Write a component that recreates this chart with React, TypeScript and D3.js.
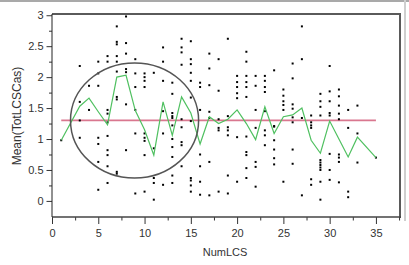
import { useEffect, useRef } from "react";
import * as d3 from "d3";

// NumLCS values that have observations
const numLcs = [
  1, 3, 4, 5, 6, 7, 8, 9, 10, 11, 12, 13, 14, 15, 16, 17, 18, 19, 20, 21, 22,
  23, 24, 25, 26, 27, 28, 29, 30, 31, 32, 33, 35,
];

// TotLCSCas observations, one list per NumLCS value above
const observations = [
  [0.98],
  [2.18, 1.6, 1.3, 1.02],
  [1.86, 1.47],
  [2.25, 2.06, 1.86, 1.02, 0.92, 0.63, 0.18],
  [2.34, 2.25, 1.47, 1.41, 1.27, 1.05, 0.82, 0.74, 0.56, 0.29],
  [2.82, 2.57, 2.53, 2.34, 2.25, 2.09, 1.68, 1.64, 0.47, 0.44],
  [2.98, 2.55, 2.38, 2.13, 2.08, 1.56, 0.82],
  [2.29, 2.06, 1.84, 1.47, 1.09, 0.12],
  [2.06, 2.0, 1.94, 1.84, 1.09, 1.02, 0.97, 0.74, 0.15],
  [2.07, 0.85, 0.37, 0.29, 0.02],
  [2.48, 2.25, 1.94, 1.45, 1.09, 0.26],
  [1.91, 1.73, 1.42, 1.37, 1.34, 1.22, 1.0, 0.87, 0.71, 0.41, 0.29],
  [2.62, 2.48, 2.4, 2.2, 1.32, 1.19, 0.95, 0.9, 0.56],
  [2.58, 2.29, 2.21, 2.07, 1.94, 1.67, 1.29, 0.37, 0.33, 0.25, 0.15],
  [1.91, 1.84, 1.47, 0.75, 0.56, 0.31, 0.1],
  [2.38, 2.14, 1.87, 1.44, 1.34, 0.63, 0.09],
  [2.29, 1.78, 1.32, 1.18, 1.14, 0.15],
  [2.62, 1.37, 1.19, 1.14, 1.06, 0.41, 0.12],
  [2.02, 1.92, 1.84, 1.74, 1.66, 1.03, 0.31],
  [2.41, 2.25, 2.02, 1.92, 1.84, 1.68, 1.04, 0.79, 0.74, 0.53, 0.37],
  [2.02, 1.86, 1.47, 1.18, 0.63, 0.55, 0.23],
  [2.02, 1.94, 1.84, 1.76, 1.45, 1.14, 1.06, 0.9],
  [2.11, 1.21, 1.2, 0.98, 0.83, 0.69, 0.59],
  [1.8, 1.7, 1.61, 1.55, 1.47, 0.31],
  [2.22, 1.98, 1.56, 1.49, 1.35, 1.27, 0.83, 0.6],
  [2.82, 2.29, 1.34, 0.09],
  [1.38, 1.27, 1.22, 1.18, 0.35, 0.26],
  [1.73, 1.61, 1.52, 1.38, 0.66, 0.62, 0.58, 0.54, 0.5, 0.31, 0.02],
  [2.18, 1.77, 1.61, 1.42, 1.38, 0.76, 0.5, 0.34],
  [1.8, 1.69, 1.54, 1.41, 1.32, 0.75, 0.7, 0.63, 0.3],
  [1.47, 1.18, 0.15, 0.06],
  [1.54, 1.09, 0.62],
  [0.7],
];

// mean of each group (green line)
const groupMeans = [
  0.98, 1.53, 1.66, 1.44, 1.23, 2.0, 2.03, 1.46, 1.15, 0.74, 1.6, 1.06, 1.68,
  1.42, 0.92, 1.36, 1.25, 1.32, 1.47, 1.25, 0.99, 1.52, 1.09, 1.36, 1.39, 1.5,
  0.98, 0.77, 1.29, 1.0, 0.71, 1.03, 0.7,
];

const grandMean = 1.3;

const xTicks = [0, 5, 10, 15, 20, 25, 30, 35];
const xMinorTicks = d3.range(2.5, 38, 5);
const yTicks = [0, 0.5, 1, 1.5, 2, 2.5, 3];
const yMinorTicks = [0.25, 0.75, 1.25, 1.75, 2.25, 2.75];

// hand-drawn circle, in data units: centre x, centre y, radius x, radius y
const circleNote = [8.92, 1.3, 6.92, 0.93];

export default function App() {
  const ref = useRef<HTMLDivElement>(null);

  useEffect(() => {
    if (!ref.current) return;
    ref.current.innerHTML = "";

    const W = 409;
    const H = 265;
    const left = 52;
    const right = 400;
    const top = 14;
    const bottom = 217;

    const svg = d3
      .select(ref.current)
      .append("svg")
      .attr("width", W)
      .attr("height", H)
      .style("position", "absolute")
      .style("left", "0px")
      .style("top", "0px")
      .style("background", "#fff")
      .attr("font-family", "'Liberation Sans', Arial, sans-serif");

    const x = d3.scaleLinear().domain([0, 37.6]).range([left, right]);
    const y = d3.scaleLinear().domain([-0.26, 3.02]).range([bottom, top]);

    // window chrome
    svg.append("rect").attr("x", 0).attr("y", 0).attr("width", W).attr("height", 2).attr("fill", "#a9a9a9");
    svg.append("rect").attr("x", 404).attr("y", 0).attr("width", 2).attr("height", 221).attr("fill", "#cfcfcf");

    // frame
    svg.append("line").attr("x1", left).attr("x2", right + 1).attr("y1", top).attr("y2", top)
      .attr("stroke", "#5a5a5a").attr("stroke-width", 2);
    svg.append("line").attr("x1", right).attr("x2", right).attr("y1", top).attr("y2", bottom + 1)
      .attr("stroke", "#5a5a5a").attr("stroke-width", 2);

    // axes
    const xg = svg.append("g").attr("transform", `translate(0,${bottom})`);
    xg.call(d3.axisBottom(x).tickValues(xTicks).tickSize(7).tickPadding(5).tickFormat((d) => String(d)));
    const xm = svg.append("g").attr("transform", `translate(0,${bottom})`);
    xm.call(d3.axisBottom(x).tickValues(xMinorTicks).tickSize(3.5).tickFormat(() => ""));

    const yg = svg.append("g").attr("transform", `translate(${left},0)`);
    yg.call(d3.axisLeft(y).tickValues(yTicks).tickSize(5.5).tickPadding(3).tickFormat((d) => String(d)));
    const ym = svg.append("g").attr("transform", `translate(${left},0)`);
    ym.call(d3.axisLeft(y).tickValues(yMinorTicks).tickSize(3).tickFormat(() => ""));

    [xg, xm, yg, ym].forEach((g) => {
      g.select(".domain").remove();
      g.selectAll("line").attr("stroke", "#333");
      g.selectAll("text").attr("font-size", 11).attr("fill", "#333").attr("font-family", "'Liberation Sans', Arial, sans-serif");
    });

    svg.append("line").attr("x1", left).attr("x2", right + 1).attr("y1", bottom).attr("y2", bottom)
      .attr("stroke", "#444").attr("stroke-width", 1.5);
    svg.append("line").attr("x1", left).attr("x2", left).attr("y1", top).attr("y2", bottom)
      .attr("stroke", "#222").attr("stroke-width", 1);

    // axis titles
    svg.append("text").attr("x", 225).attr("y", 256).attr("text-anchor", "middle")
      .attr("font-size", 11).attr("fill", "#333").text("NumLCS");
    svg.append("text").attr("transform", "translate(20.5,116) rotate(-90)").attr("text-anchor", "middle")
      .attr("font-size", 12).attr("fill", "#333").text("Mean(TotLCSCas)");

    // grand mean line
    const [x0, x1] = d3.extent(numLcs) as [number, number];
    svg.append("line").attr("x1", x(x0)).attr("x2", x(x1)).attr("y1", y(grandMean)).attr("y2", y(grandMean))
      .attr("stroke", "#d9778f").attr("stroke-width", 1.8);

    // points
    const points = numLcs.flatMap((n, i) => observations[i].map((v) => ({ n, v })));
    svg.append("g")
      .selectAll("rect")
      .data(points)
      .enter()
      .append("rect")
      .attr("x", (d) => x(d.n) - 1)
      .attr("y", (d) => y(d.v) - 1)
      .attr("width", 2)
      .attr("height", 2)
      .attr("fill", "#000");

    // group mean line
    const line = d3
      .line<number>()
      .x((_, i) => x(numLcs[i]))
      .y((d) => y(d));
    svg.append("path").attr("d", line(groupMeans)).attr("fill", "none")
      .attr("stroke", "#4fc060").attr("stroke-width", 1.2);

    // circle annotation
    const [cx, cy, rx, ry] = circleNote;
    svg.append("ellipse")
      .attr("cx", x(cx))
      .attr("cy", y(cy))
      .attr("rx", x(cx + rx) - x(cx))
      .attr("ry", y(cy) - y(cy + ry))
      .attr("fill", "none")
      .attr("stroke", "#555")
      .attr("stroke-width", 1.5);
  }, []);

  return <div ref={ref}></div>;
}
